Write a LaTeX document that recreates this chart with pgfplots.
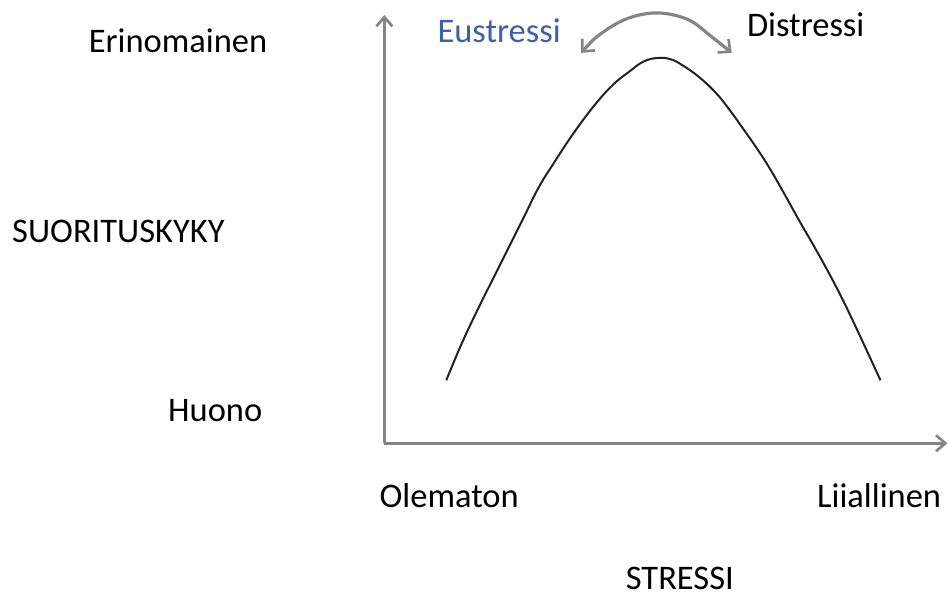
\documentclass[border=0pt]{standalone}
\usepackage{fontspec}
\setmainfont{Carlito}
\usepackage{pgfplots}
\pgfplotsset{compat=1.18}
\usetikzlibrary{arrows.meta}
\definecolor{axgray}{HTML}{858585}
\definecolor{eublue}{HTML}{3F5FA6}
\definecolor{curve}{HTML}{222222}
\tikzset{lbl/.style={font=\fontsize{25.9}{30}\selectfont, inner sep=0pt}}
\begin{document}
\begin{tikzpicture}
\begin{axis}[
  scale only axis,
  width=423pt, height=321.75pt,
  xmin=385, xmax=949, ymin=155, ymax=584,
  axis lines=left,
  axis line style={axgray, line width=2.4pt, -{Straight Barb[length=7pt,width=12pt,line width=2pt]}},
  xtick=\empty, ytick=\empty,
  clip=false,
]
% invisible frame for the page size (px units)
\addplot[draw=none, forget plot] coordinates {(0,0) (949,599)};
% performance curve
\addplot[curve, line width=1.5pt, smooth, tension=0.75] coordinates {
  (447,218) (463,256) (480,292) (495,322) (510,352) (525,382) (540,412) (555,436) (570,459)
  (585,480) (600,499) (615,515) (630,527) (645,537.5) (660,541) (672,539.5) (683,534)
  (700,522) (717,506) (730,490) (743,472) (757,452) (770,432) (785,406) (800,379)
  (815,353) (830,326) (844,299) (857,272) (870,244) (882,218)
};
% eustress/distress double arrow
\addplot[axgray, line width=2.4pt, smooth, tension=0.6,
  {Straight Barb[length=7pt,width=13pt,line width=2pt]}-{Straight Barb[length=7pt,width=13pt,line width=2pt]}]
  coordinates {(582,546) (603,566) (630,581) (660,586) (690,579) (713,562) (733,546)};
\node[lbl, anchor=base east] at (axis cs:268,546) {Erinomainen};
\node[lbl, anchor=base east] at (axis cs:263,177) {Huono};
\node[lbl, anchor=base west] at (axis cs:12,356) {SUORITUSKYKY};
\node[lbl, anchor=base west] at (axis cs:380,91) {Olematon};
\node[lbl, anchor=base east] at (axis cs:943,91) {Liiallinen};
\node[lbl, anchor=base] at (axis cs:681,9) {STRESSI};
\node[lbl, anchor=base west, text=eublue] at (axis cs:438,556) {Eustressi};
\node[lbl, anchor=base west] at (axis cs:748,562) {Distressi};
\end{axis}
\end{tikzpicture}
\end{document}
